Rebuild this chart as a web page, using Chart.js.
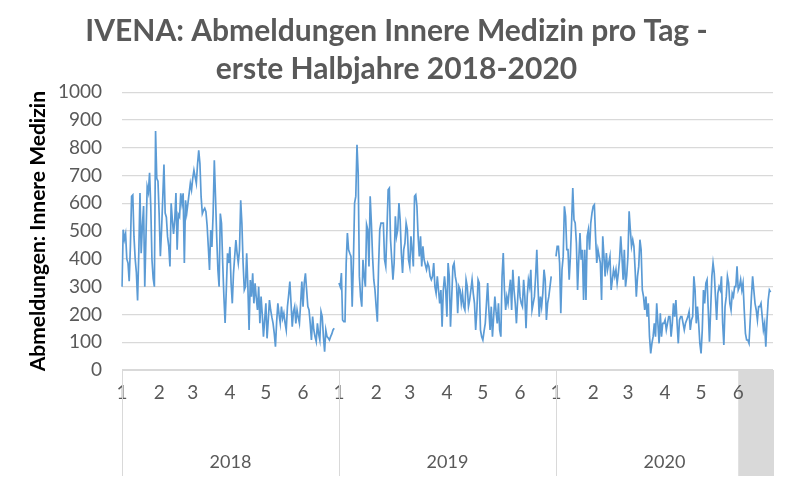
<!DOCTYPE html>
<html>
<head>
<meta charset="utf-8">
<script src="https://cdn.jsdelivr.net/npm/chart.js@4.4.1/dist/chart.umd.min.js"></script>
<style>
    body { margin: 0; background: #fff; }
    #wrap { width: 800px; height: 485px; }
</style>
</head>
<body>
<div id="wrap"><canvas id="chart1"></canvas></div>
<script>
// categories: first half-years, months 1-6, one slot per day
var years = ['2018', '2019', '2020'];
var monthDays = [[31, 28, 31, 30, 31, 30], [31, 28, 31, 30, 31, 30], [31, 29, 31, 30, 31, 30]];
var monthLabels = ['1', '2', '3', '4', '5', '6'];

// daily values
var values2018 = [300, 505, 470, 490, 400, 385, 320, 445, 625, 630, 480, 400, 350, 250, 420, 637, 420, 520, 590, 300,
    480, 660, 640, 710, 590, 397, 330, 300, 860, 690, 680, 560, 410, 505, 620, 740, 565, 550, 480, 445,
    373, 600, 540, 490, 540, 637, 433, 560, 551, 636, 600, 636, 385, 611, 565, 600, 636, 672, 648, 690,
    719, 695, 672, 740, 791, 743, 623, 563, 575, 582, 570, 520, 443, 360, 504, 443, 563, 755, 623, 479,
    360, 300, 563, 528, 385, 264, 169, 288, 420, 385, 443, 312, 240, 348, 409, 468, 420, 385, 432, 611,
    528, 385, 288, 300, 420, 300, 144, 324, 264, 348, 240, 312, 260, 216, 300, 168, 264, 200, 120, 180,
    240, 114, 180, 252, 216, 190, 168, 132, 84, 174, 240, 200, 168, 228, 186, 204, 170, 144, 228, 270,
    318, 240, 156, 210, 228, 168, 216, 190, 168, 240, 318, 228, 313, 348, 288, 228, 216, 168, 108, 192,
    144, 120, 102, 168, 130, 108, 210, 192, 120, 66, 144, 120, 115, 108, 120, 130, 144, 150];
var values2019 = [313, 300, 349, 180, 174, 174, 385, 493, 433, 420, 409, 228, 385, 601, 625, 811, 709, 337, 264, 228,
    397, 337, 300, 523, 505, 373, 625, 529, 409, 325, 288, 228, 174, 373, 505, 529, 529, 529, 397, 373,
    505, 649, 655, 469, 397, 325, 385, 553, 481, 505, 601, 541, 421, 349, 433, 457, 529, 505, 397, 373,
    481, 433, 373, 625, 631, 589, 481, 409, 481, 373, 445, 397, 379, 361, 385, 373, 337, 325, 337, 385,
    300, 276, 337, 288, 240, 288, 156, 288, 337, 288, 192, 385, 337, 156, 260, 373, 385, 337, 313, 204,
    300, 288, 240, 276, 228, 216, 325, 300, 228, 252, 288, 325, 276, 240, 144, 216, 325, 313, 144, 120,
    108, 140, 168, 240, 313, 216, 144, 228, 120, 192, 264, 210, 168, 240, 144, 120, 337, 421, 288, 216,
    264, 240, 288, 325, 216, 361, 288, 240, 168, 252, 337, 264, 240, 228, 325, 264, 150, 264, 325, 300,
    361, 216, 240, 264, 337, 433, 300, 192, 264, 228, 276, 361, 325, 180, 240, 264, 300, 337];
var values2020 = [409, 445, 445, 385, 204, 361, 409, 589, 553, 433, 433, 325, 409, 529, 655, 541, 529, 457, 288, 397,
    493, 397, 433, 252, 433, 252, 481, 505, 433, 529, 565, 589, 595, 481, 385, 433, 409, 385, 252, 481,
    409, 337, 421, 361, 385, 409, 288, 325, 361, 337, 361, 313, 349, 397, 481, 409, 325, 433, 300, 340,
    409, 571, 505, 445, 469, 445, 361, 264, 337, 373, 469, 433, 288, 264, 216, 264, 192, 240, 120, 60,
    96, 120, 168, 120, 240, 168, 96, 204, 120, 168, 168, 180, 144, 168, 192, 192, 120, 168, 240, 192,
    252, 168, 96, 180, 192, 192, 168, 144, 168, 180, 192, 210, 144, 180, 192, 337, 288, 168, 228, 168,
    96, 60, 144, 288, 240, 313, 325, 216, 102, 216, 337, 385, 349, 264, 180, 276, 300, 288, 337, 168,
    90, 228, 264, 337, 313, 240, 216, 276, 264, 300, 300, 373, 288, 300, 325, 288, 313, 216, 132, 108,
    108, 96, 180, 264, 337, 288, 240, 216, 180, 228, 228, 240, 192, 144, 168, 84, 180, 252, 288, 280];

var yMin = 0;
var yMax = 1000;
var yStep = 100;

// build one slot per day, month number on the first day
var yearValues = [values2018, values2019, values2020];
var labels = [];
var series = [];
var yearStart = [];
for (var y = 0; y < years.length; y++) {
    yearStart.push(labels.length);
    var k = 0;
    for (var m = 0; m < monthDays[y].length; m++) {
        for (var d = 0; d < monthDays[y][m]; d++) {
            labels.push(d == 0 ? monthLabels[m] : '');
            series.push(k < yearValues[y].length ? yearValues[y][k] : null);
            k++;
        }
    }
}
yearStart.push(labels.length - 1);
// first day of June 2020 (shaded in the axis)
var shadeStart = yearStart[2] + 31 + 29 + 31 + 30 + 31;

var gridColor = '#d9d9d9';
var textColor = '#595959';
var fontFam = 'Lato, "Open Sans", sans-serif';

var yearGroups = {
    id: 'yearGroups',
    beforeDraw: function (chart) {
        var ctx = chart.ctx;
        var x = chart.scales.x;
        var area = chart.chartArea;
        ctx.save();
        ctx.fillStyle = '#d9d9d9';
        var x0 = x.getPixelForValue(shadeStart);
        ctx.fillRect(x0, area.bottom + 1, area.right - x0, chart.height - 9 - area.bottom - 1);
        ctx.restore();
    },
    afterDraw: function (chart) {
        var ctx = chart.ctx;
        var x = chart.scales.x;
        var area = chart.chartArea;
        var bottom = chart.height - 9;
        ctx.save();
        ctx.strokeStyle = gridColor;
        ctx.lineWidth = 1;
        for (var i = 0; i < yearStart.length; i++) {
            var px = Math.round(x.getPixelForValue(yearStart[i])) + 0.5;
            ctx.beginPath();
            ctx.moveTo(px, area.bottom);
            ctx.lineTo(px, bottom);
            ctx.stroke();
        }
        ctx.fillStyle = textColor;
        ctx.font = '18px ' + fontFam;
        ctx.textAlign = 'center';
        ctx.textBaseline = 'middle';
        for (var j = 0; j < years.length; j++) {
            var a = x.getPixelForValue(yearStart[j]);
            var b = x.getPixelForValue(yearStart[j + 1]);
            ctx.fillText(years[j], (a + b) / 2, 462);
        }
        ctx.restore();
    }
};

var ctxChart1 = document.getElementById('chart1').getContext('2d');
var chart1 = new Chart(ctxChart1, {
    type: 'line',
    plugins: [yearGroups],
    data: {
        labels: labels,
        datasets: [{
            label: 'Abmeldungen Innere Medizin',
            data: series,
            borderColor: '#5b9bd5',
            borderWidth: 1.7,
            pointRadius: 0,
            tension: 0,
            spanGaps: false
        }]
    }, options: {
        responsive: true,
        maintainAspectRatio: false,
        animation: false,
        layout: { padding: { left: 20, right: 27, top: 0, bottom: 0 } },
        plugins: {
            legend: { display: false },
            tooltip: { enabled: false },
            title: {
                display: true,
                text: ['IVENA: Abmeldungen Innere Medizin pro Tag -', 'erste Halbjahre 2018-2020'],
                color: textColor,
                font: { family: fontFam, size: 30, weight: 'bold', lineHeight: 1.27 },
                padding: { top: 12, bottom: 4 }
            }
        }, scales: {
            x: {
                grid: { display: false },
                border: { color: gridColor, width: 1 },
                ticks: {
                    autoSkip: false,
                    maxRotation: 0,
                    minRotation: 0,
                    color: textColor,
                    padding: 3,
                    font: { family: fontFam, size: 19 }
                },
                afterFit: function (scale) { scale.height = 115; }
            },
            y: {
                min: yMin,
                max: yMax,
                grid: { color: gridColor, lineWidth: 1.3, drawTicks: false },
                border: { display: false },
                ticks: {
                    stepSize: yStep,
                    color: textColor,
                    padding: 20,
                    font: { family: fontFam, size: 19 },
                    callback: function (value) { return String(value); }
                },
                title: {
                    display: true,
                    text: 'Abmeldungen: Innere Medizin',
                    color: '#000',
                    font: { family: fontFam, size: 21, weight: 'bold' },
                    padding: { top: 6, bottom: 0 }
                },
                afterFit: function (scale) { scale.width = 102; }
            }
        }
    },
});
</script>
</body>
</html>
